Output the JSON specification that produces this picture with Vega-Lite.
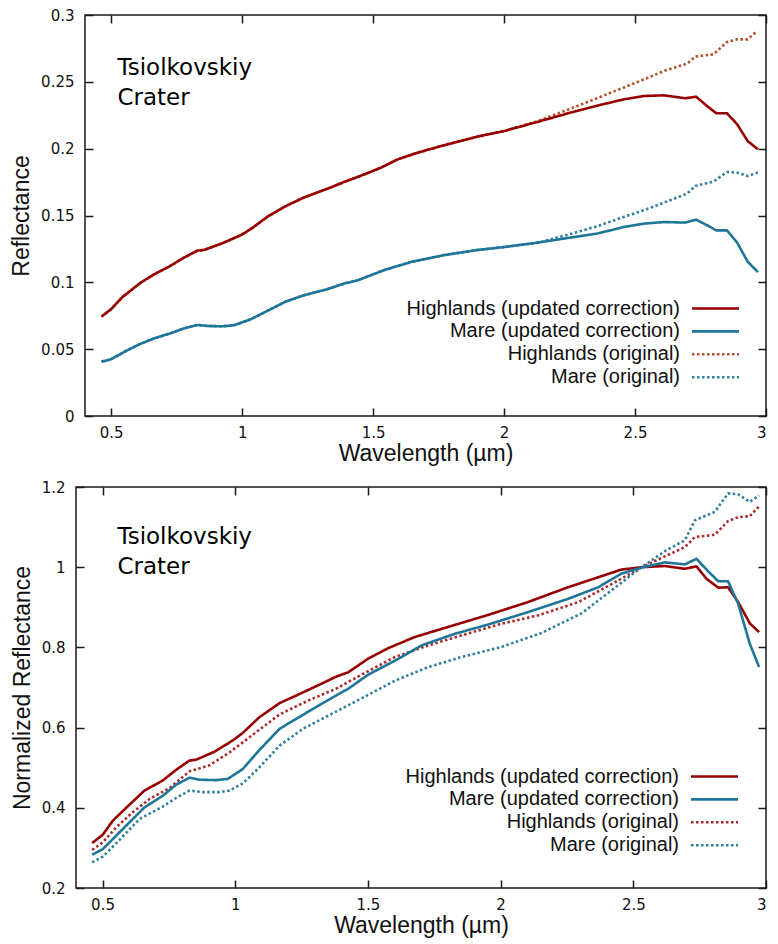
{
  "$schema": "https://vega.github.io/schema/vega-lite/v6.json",
  "background": "white",
  "padding": {"left": 10, "top": 8, "right": 8, "bottom": 4},
  "config": {
    "view": {"stroke": "#1a1a1a", "strokeWidth": 1.5},
    "axis": {
      "domain": false, "grid": false,
      "tickColor": "#1a1a1a", "tickSize": -8, "tickWidth": 1.5,
      "labelFont": "DejaVu Sans", "labelFontSize": 15, "labelColor": "#111111",
      "titleFont": "Liberation Sans", "titleFontSize": 23, "titleFontWeight": "normal", "titleColor": "#111111"
    },
    "axisX": {"labelPadding": 17, "titlePadding": 2},
    "axisY": {"labelPadding": 19, "titlePadding": 7},
    "legend": {
      "orient": "none", "title": null, "padding": 0,
      "symbolType": "M-2.35,0H2.35", "symbolSize": 400,
      "labelFont": "Liberation Sans", "labelFontSize": 20, "labelColor": "#111111", "labelLimit": 500,
      "labelAlign": "right", "labelOffset": -47, "rowPadding": 0.9
    },
    "line": {"strokeCap": "butt", "strokeJoin": "round"}
  },
  "datasets": {
    "reflectance": [
      {"series": "Highlands (original)", "w": 0.463, "v": 0.0744}, {"series": "Highlands (original)", "w": 0.499, "v": 0.0798}, {"series": "Highlands (original)", "w": 0.543, "v": 0.089}, {"series": "Highlands (original)", "w": 0.613, "v": 0.0998}, {"series": "Highlands (original)", "w": 0.664, "v": 0.106}, {"series": "Highlands (original)", "w": 0.721, "v": 0.1118}, {"series": "Highlands (original)", "w": 0.778, "v": 0.1185}, {"series": "Highlands (original)", "w": 0.829, "v": 0.1237}, {"series": "Highlands (original)", "w": 0.854, "v": 0.1242}, {"series": "Highlands (original)", "w": 0.924, "v": 0.1292}, {"series": "Highlands (original)", "w": 0.994, "v": 0.1352}, {"series": "Highlands (original)", "w": 1.032, "v": 0.1397}, {"series": "Highlands (original)", "w": 1.096, "v": 0.149}, {"series": "Highlands (original)", "w": 1.166, "v": 0.157}, {"series": "Highlands (original)", "w": 1.235, "v": 0.1634}, {"series": "Highlands (original)", "w": 1.337, "v": 0.1709}, {"series": "Highlands (original)", "w": 1.388, "v": 0.175}, {"series": "Highlands (original)", "w": 1.416, "v": 0.177}, {"series": "Highlands (original)", "w": 1.467, "v": 0.1808}, {"series": "Highlands (original)", "w": 1.53, "v": 0.1858}, {"series": "Highlands (original)", "w": 1.594, "v": 0.192}, {"series": "Highlands (original)", "w": 1.67, "v": 0.197}, {"series": "Highlands (original)", "w": 1.784, "v": 0.2033}, {"series": "Highlands (original)", "w": 1.898, "v": 0.209}, {"series": "Highlands (original)", "w": 2.0, "v": 0.2132}, {"series": "Highlands (original)", "w": 2.127, "v": 0.2205}, {"series": "Highlands (original)", "w": 2.254, "v": 0.23}, {"series": "Highlands (original)", "w": 2.356, "v": 0.2378}, {"series": "Highlands (original)", "w": 2.457, "v": 0.2458}, {"series": "Highlands (original)", "w": 2.534, "v": 0.2518}, {"series": "Highlands (original)", "w": 2.61, "v": 0.2581}, {"series": "Highlands (original)", "w": 2.699, "v": 0.2636}, {"series": "Highlands (original)", "w": 2.73, "v": 0.2689}, {"series": "Highlands (original)", "w": 2.8, "v": 0.2706}, {"series": "Highlands (original)", "w": 2.851, "v": 0.2798}, {"series": "Highlands (original)", "w": 2.89, "v": 0.2818}, {"series": "Highlands (original)", "w": 2.93, "v": 0.2818}, {"series": "Highlands (original)", "w": 2.966, "v": 0.288},
      {"series": "Mare (original)", "w": 0.463, "v": 0.0407}, {"series": "Mare (original)", "w": 0.499, "v": 0.0424}, {"series": "Mare (original)", "w": 0.549, "v": 0.0479}, {"series": "Mare (original)", "w": 0.607, "v": 0.0536}, {"series": "Mare (original)", "w": 0.664, "v": 0.0581}, {"series": "Mare (original)", "w": 0.727, "v": 0.0619}, {"series": "Mare (original)", "w": 0.778, "v": 0.0656}, {"series": "Mare (original)", "w": 0.829, "v": 0.0681}, {"series": "Mare (original)", "w": 0.873, "v": 0.0673}, {"series": "Mare (original)", "w": 0.924, "v": 0.0671}, {"series": "Mare (original)", "w": 0.969, "v": 0.0679}, {"series": "Mare (original)", "w": 1.032, "v": 0.0723}, {"series": "Mare (original)", "w": 1.096, "v": 0.0786}, {"series": "Mare (original)", "w": 1.166, "v": 0.0856}, {"series": "Mare (original)", "w": 1.235, "v": 0.0903}, {"series": "Mare (original)", "w": 1.324, "v": 0.0948}, {"series": "Mare (original)", "w": 1.388, "v": 0.099}, {"series": "Mare (original)", "w": 1.441, "v": 0.1015}, {"series": "Mare (original)", "w": 1.543, "v": 0.1092}, {"series": "Mare (original)", "w": 1.644, "v": 0.1152}, {"series": "Mare (original)", "w": 1.772, "v": 0.1204}, {"series": "Mare (original)", "w": 1.898, "v": 0.1242}, {"series": "Mare (original)", "w": 2.0, "v": 0.1264}, {"series": "Mare (original)", "w": 2.127, "v": 0.1295}, {"series": "Mare (original)", "w": 2.254, "v": 0.1362}, {"series": "Mare (original)", "w": 2.356, "v": 0.142}, {"series": "Mare (original)", "w": 2.457, "v": 0.1489}, {"series": "Mare (original)", "w": 2.534, "v": 0.154}, {"series": "Mare (original)", "w": 2.61, "v": 0.1596}, {"series": "Mare (original)", "w": 2.699, "v": 0.1664}, {"series": "Mare (original)", "w": 2.73, "v": 0.1721}, {"series": "Mare (original)", "w": 2.8, "v": 0.1754}, {"series": "Mare (original)", "w": 2.851, "v": 0.1825}, {"series": "Mare (original)", "w": 2.89, "v": 0.1821}, {"series": "Mare (original)", "w": 2.93, "v": 0.1796}, {"series": "Mare (original)", "w": 2.969, "v": 0.1821},
      {"series": "Highlands (updated correction)", "w": 0.463, "v": 0.0744}, {"series": "Highlands (updated correction)", "w": 0.499, "v": 0.0798}, {"series": "Highlands (updated correction)", "w": 0.543, "v": 0.089}, {"series": "Highlands (updated correction)", "w": 0.613, "v": 0.0998}, {"series": "Highlands (updated correction)", "w": 0.664, "v": 0.106}, {"series": "Highlands (updated correction)", "w": 0.721, "v": 0.1118}, {"series": "Highlands (updated correction)", "w": 0.778, "v": 0.1185}, {"series": "Highlands (updated correction)", "w": 0.829, "v": 0.1237}, {"series": "Highlands (updated correction)", "w": 0.854, "v": 0.1242}, {"series": "Highlands (updated correction)", "w": 0.924, "v": 0.1292}, {"series": "Highlands (updated correction)", "w": 0.994, "v": 0.1352}, {"series": "Highlands (updated correction)", "w": 1.032, "v": 0.1397}, {"series": "Highlands (updated correction)", "w": 1.096, "v": 0.149}, {"series": "Highlands (updated correction)", "w": 1.166, "v": 0.157}, {"series": "Highlands (updated correction)", "w": 1.235, "v": 0.1634}, {"series": "Highlands (updated correction)", "w": 1.337, "v": 0.1709}, {"series": "Highlands (updated correction)", "w": 1.388, "v": 0.175}, {"series": "Highlands (updated correction)", "w": 1.416, "v": 0.177}, {"series": "Highlands (updated correction)", "w": 1.467, "v": 0.1808}, {"series": "Highlands (updated correction)", "w": 1.53, "v": 0.1858}, {"series": "Highlands (updated correction)", "w": 1.594, "v": 0.192}, {"series": "Highlands (updated correction)", "w": 1.67, "v": 0.197}, {"series": "Highlands (updated correction)", "w": 1.784, "v": 0.2033}, {"series": "Highlands (updated correction)", "w": 1.898, "v": 0.209}, {"series": "Highlands (updated correction)", "w": 2.0, "v": 0.2132}, {"series": "Highlands (updated correction)", "w": 2.127, "v": 0.22}, {"series": "Highlands (updated correction)", "w": 2.254, "v": 0.227}, {"series": "Highlands (updated correction)", "w": 2.356, "v": 0.2322}, {"series": "Highlands (updated correction)", "w": 2.457, "v": 0.2369}, {"series": "Highlands (updated correction)", "w": 2.534, "v": 0.2394}, {"series": "Highlands (updated correction)", "w": 2.61, "v": 0.2399}, {"series": "Highlands (updated correction)", "w": 2.692, "v": 0.2377}, {"series": "Highlands (updated correction)", "w": 2.733, "v": 0.2389}, {"series": "Highlands (updated correction)", "w": 2.775, "v": 0.2319}, {"series": "Highlands (updated correction)", "w": 2.81, "v": 0.2265}, {"series": "Highlands (updated correction)", "w": 2.851, "v": 0.2265}, {"series": "Highlands (updated correction)", "w": 2.89, "v": 0.2182}, {"series": "Highlands (updated correction)", "w": 2.93, "v": 0.2057}, {"series": "Highlands (updated correction)", "w": 2.969, "v": 0.1995},
      {"series": "Mare (updated correction)", "w": 0.463, "v": 0.0407}, {"series": "Mare (updated correction)", "w": 0.499, "v": 0.0424}, {"series": "Mare (updated correction)", "w": 0.549, "v": 0.0479}, {"series": "Mare (updated correction)", "w": 0.607, "v": 0.0536}, {"series": "Mare (updated correction)", "w": 0.664, "v": 0.0581}, {"series": "Mare (updated correction)", "w": 0.727, "v": 0.0619}, {"series": "Mare (updated correction)", "w": 0.778, "v": 0.0656}, {"series": "Mare (updated correction)", "w": 0.829, "v": 0.0681}, {"series": "Mare (updated correction)", "w": 0.873, "v": 0.0673}, {"series": "Mare (updated correction)", "w": 0.924, "v": 0.0671}, {"series": "Mare (updated correction)", "w": 0.969, "v": 0.0679}, {"series": "Mare (updated correction)", "w": 1.032, "v": 0.0723}, {"series": "Mare (updated correction)", "w": 1.096, "v": 0.0786}, {"series": "Mare (updated correction)", "w": 1.166, "v": 0.0856}, {"series": "Mare (updated correction)", "w": 1.235, "v": 0.0903}, {"series": "Mare (updated correction)", "w": 1.324, "v": 0.0948}, {"series": "Mare (updated correction)", "w": 1.388, "v": 0.099}, {"series": "Mare (updated correction)", "w": 1.441, "v": 0.1015}, {"series": "Mare (updated correction)", "w": 1.543, "v": 0.1092}, {"series": "Mare (updated correction)", "w": 1.644, "v": 0.1152}, {"series": "Mare (updated correction)", "w": 1.772, "v": 0.1204}, {"series": "Mare (updated correction)", "w": 1.898, "v": 0.1242}, {"series": "Mare (updated correction)", "w": 2.0, "v": 0.1264}, {"series": "Mare (updated correction)", "w": 2.127, "v": 0.1297}, {"series": "Mare (updated correction)", "w": 2.254, "v": 0.1335}, {"series": "Mare (updated correction)", "w": 2.356, "v": 0.1365}, {"series": "Mare (updated correction)", "w": 2.457, "v": 0.1414}, {"series": "Mare (updated correction)", "w": 2.534, "v": 0.1439}, {"series": "Mare (updated correction)", "w": 2.61, "v": 0.1451}, {"series": "Mare (updated correction)", "w": 2.692, "v": 0.1447}, {"series": "Mare (updated correction)", "w": 2.733, "v": 0.1469}, {"series": "Mare (updated correction)", "w": 2.775, "v": 0.1427}, {"series": "Mare (updated correction)", "w": 2.81, "v": 0.1389}, {"series": "Mare (updated correction)", "w": 2.851, "v": 0.1389}, {"series": "Mare (updated correction)", "w": 2.89, "v": 0.1297}, {"series": "Mare (updated correction)", "w": 2.93, "v": 0.1155}, {"series": "Mare (updated correction)", "w": 2.969, "v": 0.1077}
    ],
    "normalized": [
      {"series": "Highlands (original)", "w": 0.461, "v": 0.295}, {"series": "Highlands (original)", "w": 0.501, "v": 0.314}, {"series": "Highlands (original)", "w": 0.551, "v": 0.351}, {"series": "Highlands (original)", "w": 0.614, "v": 0.389}, {"series": "Highlands (original)", "w": 0.677, "v": 0.422}, {"series": "Highlands (original)", "w": 0.752, "v": 0.449}, {"series": "Highlands (original)", "w": 0.828, "v": 0.491}, {"series": "Highlands (original)", "w": 0.903, "v": 0.506}, {"series": "Highlands (original)", "w": 0.978, "v": 0.538}, {"series": "Highlands (original)", "w": 1.054, "v": 0.576}, {"series": "Highlands (original)", "w": 1.167, "v": 0.633}, {"series": "Highlands (original)", "w": 1.28, "v": 0.669}, {"series": "Highlands (original)", "w": 1.38, "v": 0.697}, {"series": "Highlands (original)", "w": 1.476, "v": 0.732}, {"series": "Highlands (original)", "w": 1.602, "v": 0.776}, {"series": "Highlands (original)", "w": 1.727, "v": 0.805}, {"series": "Highlands (original)", "w": 1.853, "v": 0.83}, {"series": "Highlands (original)", "w": 2.003, "v": 0.859}, {"series": "Highlands (original)", "w": 2.142, "v": 0.88}, {"series": "Highlands (original)", "w": 2.293, "v": 0.913}, {"series": "Highlands (original)", "w": 2.443, "v": 0.967}, {"series": "Highlands (original)", "w": 2.531, "v": 1.0}, {"series": "Highlands (original)", "w": 2.619, "v": 1.027}, {"series": "Highlands (original)", "w": 2.694, "v": 1.05}, {"series": "Highlands (original)", "w": 2.732, "v": 1.075}, {"series": "Highlands (original)", "w": 2.807, "v": 1.081}, {"series": "Highlands (original)", "w": 2.857, "v": 1.115}, {"series": "Highlands (original)", "w": 2.895, "v": 1.125}, {"series": "Highlands (original)", "w": 2.939, "v": 1.127}, {"series": "Highlands (original)", "w": 2.974, "v": 1.152},
      {"series": "Mare (original)", "w": 0.461, "v": 0.264}, {"series": "Mare (original)", "w": 0.501, "v": 0.278}, {"series": "Mare (original)", "w": 0.564, "v": 0.32}, {"series": "Mare (original)", "w": 0.639, "v": 0.372}, {"series": "Mare (original)", "w": 0.727, "v": 0.403}, {"series": "Mare (original)", "w": 0.778, "v": 0.425}, {"series": "Mare (original)", "w": 0.828, "v": 0.443}, {"series": "Mare (original)", "w": 0.878, "v": 0.439}, {"series": "Mare (original)", "w": 0.941, "v": 0.439}, {"series": "Mare (original)", "w": 0.978, "v": 0.443}, {"series": "Mare (original)", "w": 1.029, "v": 0.461}, {"series": "Mare (original)", "w": 1.091, "v": 0.501}, {"series": "Mare (original)", "w": 1.167, "v": 0.555}, {"series": "Mare (original)", "w": 1.255, "v": 0.597}, {"series": "Mare (original)", "w": 1.38, "v": 0.64}, {"series": "Mare (original)", "w": 1.476, "v": 0.673}, {"series": "Mare (original)", "w": 1.602, "v": 0.717}, {"series": "Mare (original)", "w": 1.727, "v": 0.751}, {"series": "Mare (original)", "w": 1.853, "v": 0.776}, {"series": "Mare (original)", "w": 2.003, "v": 0.801}, {"series": "Mare (original)", "w": 2.154, "v": 0.836}, {"series": "Mare (original)", "w": 2.305, "v": 0.885}, {"series": "Mare (original)", "w": 2.443, "v": 0.955}, {"series": "Mare (original)", "w": 2.531, "v": 1.0}, {"series": "Mare (original)", "w": 2.619, "v": 1.04}, {"series": "Mare (original)", "w": 2.694, "v": 1.067}, {"series": "Mare (original)", "w": 2.732, "v": 1.117}, {"series": "Mare (original)", "w": 2.807, "v": 1.138}, {"series": "Mare (original)", "w": 2.857, "v": 1.184}, {"series": "Mare (original)", "w": 2.895, "v": 1.182}, {"series": "Mare (original)", "w": 2.939, "v": 1.163}, {"series": "Mare (original)", "w": 2.974, "v": 1.179},
      {"series": "Highlands (updated correction)", "w": 0.461, "v": 0.312}, {"series": "Highlands (updated correction)", "w": 0.501, "v": 0.333}, {"series": "Highlands (updated correction)", "w": 0.539, "v": 0.368}, {"series": "Highlands (updated correction)", "w": 0.589, "v": 0.4}, {"series": "Highlands (updated correction)", "w": 0.658, "v": 0.443}, {"series": "Highlands (updated correction)", "w": 0.727, "v": 0.468}, {"series": "Highlands (updated correction)", "w": 0.778, "v": 0.495}, {"series": "Highlands (updated correction)", "w": 0.828, "v": 0.518}, {"series": "Highlands (updated correction)", "w": 0.853, "v": 0.52}, {"series": "Highlands (updated correction)", "w": 0.922, "v": 0.54}, {"series": "Highlands (updated correction)", "w": 0.991, "v": 0.568}, {"series": "Highlands (updated correction)", "w": 1.029, "v": 0.587}, {"series": "Highlands (updated correction)", "w": 1.091, "v": 0.626}, {"series": "Highlands (updated correction)", "w": 1.167, "v": 0.661}, {"series": "Highlands (updated correction)", "w": 1.23, "v": 0.68}, {"series": "Highlands (updated correction)", "w": 1.33, "v": 0.711}, {"series": "Highlands (updated correction)", "w": 1.38, "v": 0.727}, {"series": "Highlands (updated correction)", "w": 1.426, "v": 0.738}, {"series": "Highlands (updated correction)", "w": 1.501, "v": 0.772}, {"series": "Highlands (updated correction)", "w": 1.576, "v": 0.798}, {"series": "Highlands (updated correction)", "w": 1.677, "v": 0.826}, {"series": "Highlands (updated correction)", "w": 1.802, "v": 0.851}, {"series": "Highlands (updated correction)", "w": 1.953, "v": 0.881}, {"series": "Highlands (updated correction)", "w": 2.103, "v": 0.913}, {"series": "Highlands (updated correction)", "w": 2.254, "v": 0.95}, {"series": "Highlands (updated correction)", "w": 2.368, "v": 0.975}, {"series": "Highlands (updated correction)", "w": 2.455, "v": 0.994}, {"series": "Highlands (updated correction)", "w": 2.531, "v": 1.0}, {"series": "Highlands (updated correction)", "w": 2.619, "v": 1.003}, {"series": "Highlands (updated correction)", "w": 2.694, "v": 0.996}, {"series": "Highlands (updated correction)", "w": 2.738, "v": 1.002}, {"series": "Highlands (updated correction)", "w": 2.776, "v": 0.971}, {"series": "Highlands (updated correction)", "w": 2.82, "v": 0.949}, {"series": "Highlands (updated correction)", "w": 2.857, "v": 0.95}, {"series": "Highlands (updated correction)", "w": 2.895, "v": 0.913}, {"series": "Highlands (updated correction)", "w": 2.939, "v": 0.86}, {"series": "Highlands (updated correction)", "w": 2.974, "v": 0.838},
      {"series": "Mare (updated correction)", "w": 0.461, "v": 0.283}, {"series": "Mare (updated correction)", "w": 0.501, "v": 0.297}, {"series": "Mare (updated correction)", "w": 0.564, "v": 0.339}, {"series": "Mare (updated correction)", "w": 0.658, "v": 0.401}, {"series": "Mare (updated correction)", "w": 0.727, "v": 0.43}, {"series": "Mare (updated correction)", "w": 0.778, "v": 0.458}, {"series": "Mare (updated correction)", "w": 0.828, "v": 0.475}, {"series": "Mare (updated correction)", "w": 0.865, "v": 0.47}, {"series": "Mare (updated correction)", "w": 0.928, "v": 0.469}, {"series": "Mare (updated correction)", "w": 0.972, "v": 0.472}, {"series": "Mare (updated correction)", "w": 1.029, "v": 0.497}, {"series": "Mare (updated correction)", "w": 1.091, "v": 0.544}, {"series": "Mare (updated correction)", "w": 1.167, "v": 0.597}, {"series": "Mare (updated correction)", "w": 1.23, "v": 0.622}, {"series": "Mare (updated correction)", "w": 1.33, "v": 0.661}, {"series": "Mare (updated correction)", "w": 1.38, "v": 0.68}, {"series": "Mare (updated correction)", "w": 1.426, "v": 0.697}, {"series": "Mare (updated correction)", "w": 1.501, "v": 0.732}, {"series": "Mare (updated correction)", "w": 1.602, "v": 0.767}, {"series": "Mare (updated correction)", "w": 1.702, "v": 0.805}, {"series": "Mare (updated correction)", "w": 1.828, "v": 0.834}, {"series": "Mare (updated correction)", "w": 1.953, "v": 0.857}, {"series": "Mare (updated correction)", "w": 2.103, "v": 0.888}, {"series": "Mare (updated correction)", "w": 2.254, "v": 0.921}, {"series": "Mare (updated correction)", "w": 2.368, "v": 0.95}, {"series": "Mare (updated correction)", "w": 2.455, "v": 0.984}, {"series": "Mare (updated correction)", "w": 2.531, "v": 0.999}, {"series": "Mare (updated correction)", "w": 2.619, "v": 1.012}, {"series": "Mare (updated correction)", "w": 2.694, "v": 1.007}, {"series": "Mare (updated correction)", "w": 2.738, "v": 1.021}, {"series": "Mare (updated correction)", "w": 2.776, "v": 0.994}, {"series": "Mare (updated correction)", "w": 2.82, "v": 0.965}, {"series": "Mare (updated correction)", "w": 2.857, "v": 0.965}, {"series": "Mare (updated correction)", "w": 2.895, "v": 0.909}, {"series": "Mare (updated correction)", "w": 2.939, "v": 0.809}, {"series": "Mare (updated correction)", "w": 2.974, "v": 0.751}
    ]
  },
  "vconcat": [
    {
      "width": 690, "height": 401,
      "view": {"stroke": null},
      "data": {"name": "reflectance"},
      "layer": [
        {
          "data": {"values": [{}]},
          "mark": {"type": "rect", "fill": null, "stroke": "#1a1a1a", "strokeWidth": 1.5},
          "encoding": {
            "x": {"datum": 0.4, "type": "quantitative", "axis": null},
            "x2": {"datum": 3},
            "y": {"datum": 0, "type": "quantitative", "axis": null},
            "y2": {"datum": 0.3}
          }
        },
        {
          "mark": {"type": "line"},
          "encoding": {
            "x": {"field": "w", "type": "quantitative", "scale": {"domain": [0.4, 3], "range": [9, 690], "nice": false, "zero": false},
                  "axis": {"orient": "bottom", "values": [0.5, 1, 1.5, 2, 2.5, 3], "format": "~g", "title": "Wavelength (µm)"}},
            "y": {"field": "v", "type": "quantitative", "scale": {"domain": [0, 0.3], "nice": false},
                  "axis": {"orient": "left", "offset": -9, "values": [0, 0.05, 0.1, 0.15, 0.2, 0.25, 0.3], "format": "~g", "title": "Reflectance"}},
            "color": {"field": "series", "type": "nominal",
                      "scale": {"domain": ["Highlands (updated correction)", "Mare (updated correction)", "Highlands (original)", "Mare (original)"],
                                "range": ["#960000", "#1f7698", "#b2502a", "#2f7f9f"]},
                      "legend": {"legendX": 628, "legendY": 282}},
            "strokeDash": {"field": "series", "type": "nominal",
                           "scale": {"domain": ["Highlands (updated correction)", "Mare (updated correction)", "Highlands (original)", "Mare (original)"],
                                     "range": [[1, 0], [1, 0], [2.5, 2.5], [2.5, 2.5]]},
                           "legend": {"legendX": 628, "legendY": 282}},
            "strokeWidth": {"field": "series", "type": "nominal",
                            "scale": {"domain": ["Highlands (updated correction)", "Mare (updated correction)", "Highlands (original)", "Mare (original)"],
                                      "range": [2.6, 2.6, 1.4, 1.4]},
                            "legend": {"legendX": 628, "legendY": 282}}
          }
        },
        {
          "mark": {"type": "point", "opacity": 0},
          "encoding": {
            "x": {"field": "w", "type": "quantitative", "axis": {"orient": "top", "values": [0.5, 1, 1.5, 2, 2.5, 3], "labels": false, "title": null}},
            "y": {"field": "v", "type": "quantitative", "axis": {"orient": "right", "values": [0, 0.05, 0.1, 0.15, 0.2, 0.25, 0.3], "labels": false, "title": null}}
          }
        },
        {
          "data": {"values": [{}]},
          "mark": {"type": "text", "align": "left", "baseline": "alphabetic", "font": "DejaVu Sans", "fontSize": 23, "lineHeight": 30, "color": "#000000", "text": ["Tsiolkovskiy", "Crater"]},
          "encoding": {
            "x": {"datum": 0.524, "type": "quantitative", "axis": null},
            "y": {"datum": 0.2549, "type": "quantitative", "axis": null}
          }
        }
      ],
      "resolve": {"axis": {"x": "independent", "y": "independent"}}
    },
    {
      "width": 690, "height": 401,
      "data": {"name": "normalized"},
      "layer": [
        {
          "mark": {"type": "line"},
          "encoding": {
            "x": {"field": "w", "type": "quantitative", "scale": {"domain": [0.4, 3], "nice": false, "zero": false},
                  "axis": {"orient": "bottom", "values": [0.5, 1, 1.5, 2, 2.5, 3], "format": "~g", "title": "Wavelength (µm)"}},
            "y": {"field": "v", "type": "quantitative", "scale": {"domain": [0.2, 1.2], "nice": false, "zero": false},
                  "axis": {"orient": "left", "values": [0.2, 0.4, 0.6, 0.8, 1, 1.2], "format": "~g", "title": "Normalized Reflectance"}},
            "color": {"field": "series", "type": "nominal",
                      "scale": {"domain": ["Highlands (updated correction)", "Mare (updated correction)", "Highlands (original)", "Mare (original)"],
                                "range": ["#960000", "#1f7698", "#a82a2a", "#2f7f9f"]},
                      "legend": {"legendX": 627, "legendY": 278}},
            "strokeDash": {"field": "series", "type": "nominal",
                           "scale": {"domain": ["Highlands (updated correction)", "Mare (updated correction)", "Highlands (original)", "Mare (original)"],
                                     "range": [[1, 0], [1, 0], [2.5, 2.5], [2.5, 2.5]]},
                           "legend": {"legendX": 627, "legendY": 278}},
            "strokeWidth": {"field": "series", "type": "nominal",
                            "scale": {"domain": ["Highlands (updated correction)", "Mare (updated correction)", "Highlands (original)", "Mare (original)"],
                                      "range": [2.6, 2.6, 1.4, 1.4]},
                            "legend": {"legendX": 627, "legendY": 278}}
          }
        },
        {
          "mark": {"type": "point", "opacity": 0},
          "encoding": {
            "x": {"field": "w", "type": "quantitative", "axis": {"orient": "top", "values": [0.5, 1, 1.5, 2, 2.5, 3], "labels": false, "title": null}},
            "y": {"field": "v", "type": "quantitative", "axis": {"orient": "right", "values": [0.2, 0.4, 0.6, 0.8, 1, 1.2], "labels": false, "title": null}}
          }
        },
        {
          "data": {"values": [{}]},
          "mark": {"type": "text", "align": "left", "baseline": "alphabetic", "font": "DejaVu Sans", "fontSize": 23, "lineHeight": 30, "color": "#000000", "text": ["Tsiolkovskiy", "Crater"]},
          "encoding": {
            "x": {"datum": 0.556, "type": "quantitative", "axis": null},
            "y": {"datum": 1.057, "type": "quantitative", "axis": null}
          }
        }
      ],
      "resolve": {"axis": {"x": "independent", "y": "independent"}}
    }
  ],
  "align": "none",
  "bounds": "full",
  "spacing": 14,
  "resolve": {"scale": {"color": "independent", "strokeDash": "independent", "strokeWidth": "independent"}}
}
